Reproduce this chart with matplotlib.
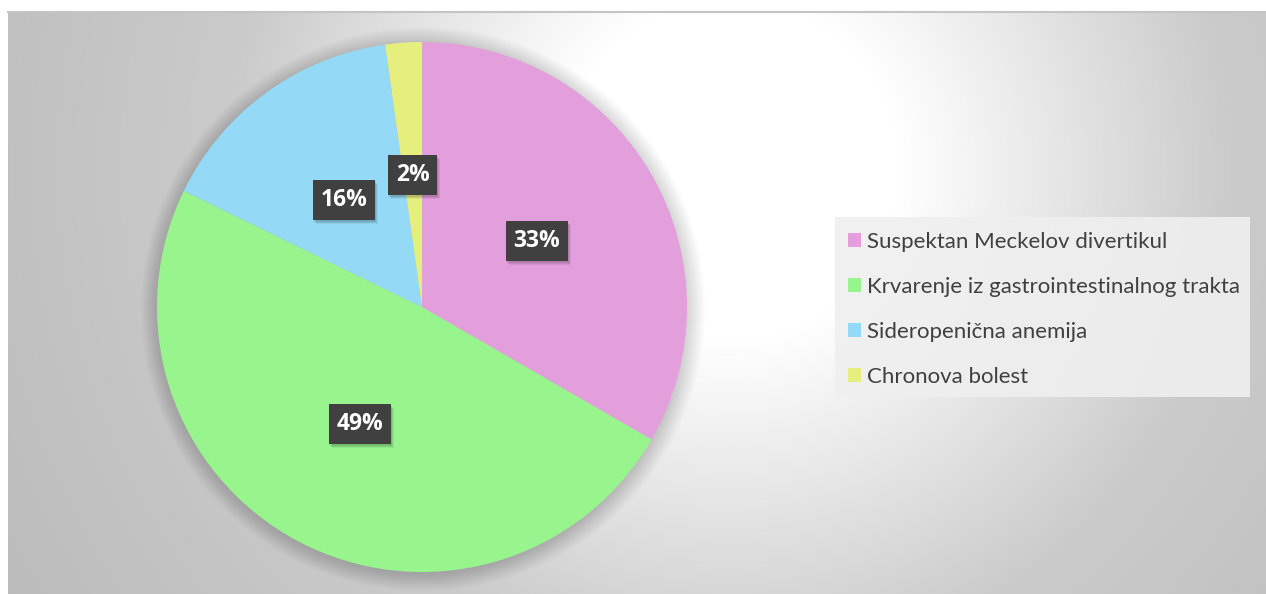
import numpy as np
import matplotlib
matplotlib.use("Agg")
import matplotlib.pyplot as plt
from matplotlib.patches import Circle, Rectangle

# ── data ────────────────────────────────────────────────────────────────────
labels = [
    "Suspektan Meckelov divertikul",
    "Krvarenje iz gastrointestinalnog trakta",
    "Sideropenična anemija",
    "Chronova bolest",
]
counts = [15, 22, 7, 1]
colors = ["#E39EDC", "#98F58E", "#94D9F6", "#E6EE7D"]

W, H = 1266, 594
plt.rcParams["font.family"] = ["Lato", "DejaVu Sans"]

fig = plt.figure(figsize=(W / 100, H / 100), dpi=100)
fig.patch.set_facecolor("white")
ax = fig.add_axes([0, 0, 1, 1])
ax.set_xlim(0, W)
ax.set_ylim(0, H)
ax.axis("off")

# ── background: radial gradient, white near top-middle, grey at the edges ──
x0, x1, y_top = 8, W, 12
xs = np.arange(x0, x1) + 0.5
ys = np.arange(y_top, H) + 0.5
gx, gy = np.meshgrid(xs, ys)
d = np.hypot(gx - 730, gy - 170)
v = np.where(d < 170, 255.0, 255 - (d - 170) * 52 / 330)
v = np.where(d > 500, 203 - (d - 500) * 15 / 330, v)
v = np.clip(v, 186, 255) / 255.0
ax.imshow(np.dstack([v, v, v]), extent=(x0, x1, 0, H - y_top),
          origin="upper", aspect="auto", zorder=0, interpolation="bilinear")
ax.plot([x0, x1], [H - y_top, H - y_top], color="#C4C4C4", lw=1.5, zorder=1)

# ── pie ─────────────────────────────────────────────────────────────────────
cx, cy, R = 422, H - 307, 265

# soft shadow around the pie
for i in range(14):
    ax.add_patch(Circle((cx + 1, cy - 2), R + i * 1.3, color="black",
                        alpha=0.012, lw=0, zorder=1))

wedges, _, autotexts = ax.pie(
    counts, colors=colors, startangle=90, counterclock=False,
    center=(cx, cy), radius=R, frame=True,
    autopct=lambda p: f"{p:.0f}%", pctdistance=0.5,
    wedgeprops=dict(linewidth=0),
    textprops=dict(color="white", fontsize=16.5, fontweight="bold",
                   family=["Open Sans", "DejaVu Sans"]),
)
ax.set_xlim(0, W)
ax.set_ylim(0, H)
ax.set_aspect("auto")
ax.axis("off")

for t in autotexts:
    t.set_zorder(5)
    t.set_bbox(dict(boxstyle="square,pad=0.34", facecolor="#404040",
                    edgecolor="none"))

# drop shadows for the label boxes (pixel coords == data coords here)
fig.canvas.draw()
for t in autotexts:
    bb = t.get_bbox_patch().get_window_extent()
    for k, a in [(4, 0.06), (3, 0.08), (2, 0.1)]:
        ax.add_patch(Rectangle((bb.x0 + k - 1, bb.y0 - k), bb.width, bb.height,
                               facecolor="black", edgecolor="none", alpha=a,
                               zorder=4))

# ── legend ──────────────────────────────────────────────────────────────────
ax.add_patch(Rectangle((835, H - 397), 415, 180, facecolor="#EFEFEF",
                       edgecolor="none", alpha=0.9, zorder=2))
leg = ax.legend(
    wedges, labels, loc="upper left",
    bbox_to_anchor=(830 / W, 1 - 214 / H), bbox_transform=fig.transFigure,
    frameon=False, fontsize=16, labelcolor="#404040",
    handlelength=0.6, handleheight=0.6, handletextpad=0.25,
    labelspacing=1.13, borderpad=0.3,
)
leg.set_zorder(6)

fig.savefig("out.png", dpi=100, facecolor=fig.get_facecolor())
